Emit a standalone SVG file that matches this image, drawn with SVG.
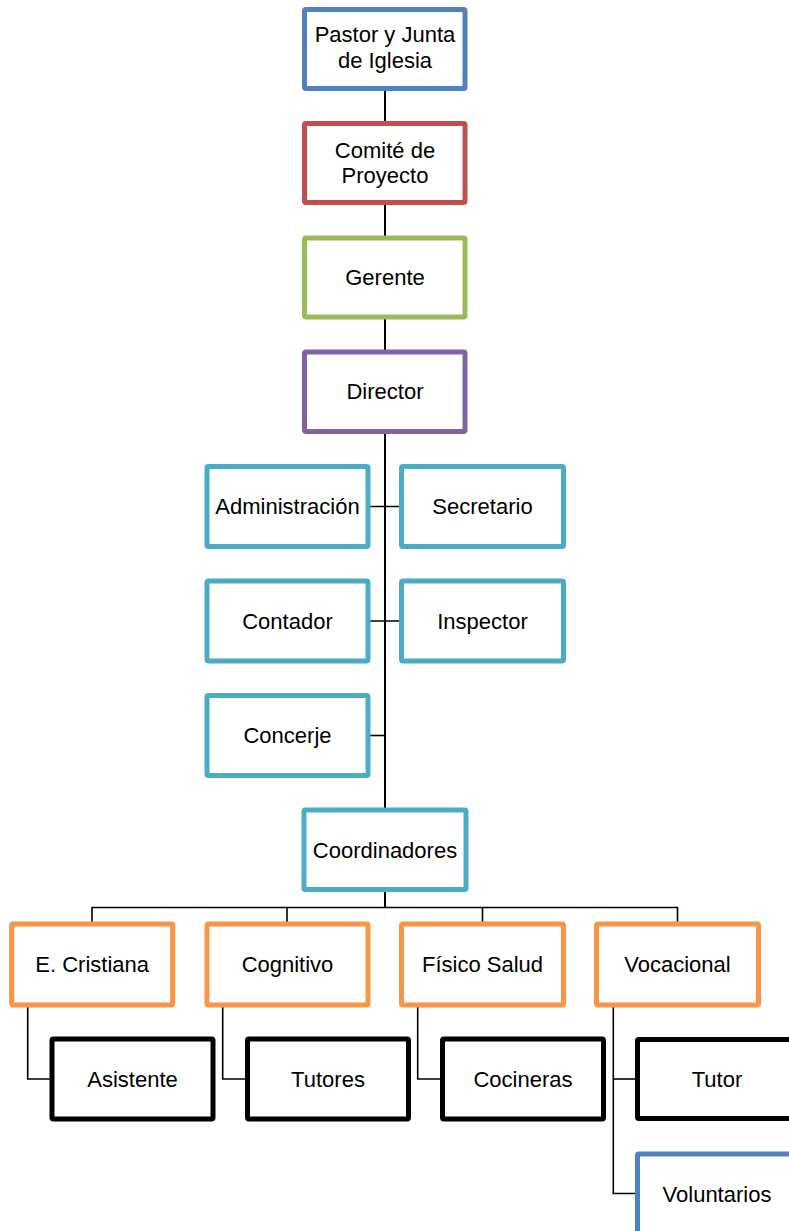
<svg xmlns="http://www.w3.org/2000/svg" width="789" height="1231" viewBox="0 0 789 1231">
<style>
.box{fill:#fff;stroke-width:5;}
.b{stroke:#4F81BD}.r{stroke:#C0504D}.g{stroke:#9BBB59}.p{stroke:#8064A2}.t{stroke:#4BACC6}.o{stroke:#F79646}.k{stroke:#000}
text{font-family:"Liberation Sans",Arial,sans-serif;font-size:22px;fill:#000;text-anchor:middle}
.ln{stroke:#000;fill:none;stroke-width:1.6}
.tr{stroke:#000;fill:none;stroke-width:2}
</style>
<g id="connectors">
<line class="tr" x1="385" y1="88" x2="385" y2="810"/>
<line class="tr" x1="385" y1="889" x2="385" y2="907.5"/>
<line class="ln" x1="368" y1="506.5" x2="401.5" y2="506.5"/>
<line class="ln" x1="368" y1="621" x2="401.5" y2="621"/>
<line class="ln" x1="368" y1="735.5" x2="385" y2="735.5"/>
<polyline class="ln" points="92,924 92,907.5 677.5,907.5 677.5,924"/>
<line class="ln" x1="287" y1="907.5" x2="287" y2="924"/>
<line class="ln" x1="482.5" y1="907.5" x2="482.5" y2="924"/>
<polyline class="ln" points="27.7,1005 27.7,1079 52,1079"/>
<polyline class="ln" points="222.7,1005 222.7,1079 247.5,1079"/>
<polyline class="ln" points="417.7,1005 417.7,1079 442.5,1079"/>
<polyline class="ln" points="613.3,1005 613.3,1193.5 637.5,1193.5"/>
<line class="ln" x1="613.3" y1="1079" x2="637.5" y2="1079"/>
</g>
<g id="pastor"><rect class="box b" x="304.5" y="9.5" width="160.5" height="79" rx="1.5"/><text x="385" y="42">Pastor y Junta</text><text x="385" y="68">de Iglesia</text></g>
<g id="comite"><rect class="box r" x="304.5" y="123.5" width="160.5" height="79" rx="1.5"/><text x="385" y="157.5">Comité de</text><text x="385" y="183">Proyecto</text></g>
<g id="gerente"><rect class="box g" x="304.5" y="238" width="160.5" height="79" rx="1.5"/><text x="385" y="285">Gerente</text></g>
<g id="director"><rect class="box p" x="304.5" y="352" width="160.5" height="79.5" rx="1.5"/><text x="385" y="399">Director</text></g>
<g id="administracion"><rect class="box t" x="207" y="466.5" width="161" height="80" rx="1.5"/><text x="287.5" y="514">Administración</text></g>
<g id="secretario"><rect class="box t" x="401.5" y="466.5" width="162" height="80" rx="1.5"/><text x="482.5" y="514">Secretario</text></g>
<g id="contador"><rect class="box t" x="207" y="581" width="161" height="80" rx="1.5"/><text x="287.5" y="628.5">Contador</text></g>
<g id="inspector"><rect class="box t" x="401.5" y="581" width="162" height="80" rx="1.5"/><text x="482.5" y="628.5">Inspector</text></g>
<g id="concerje"><rect class="box t" x="207" y="695.5" width="161" height="80" rx="1.5"/><text x="287.5" y="743">Concerje</text></g>
<g id="coordinadores"><rect class="box t" x="304" y="810" width="162" height="79.5" rx="1.5"/><text x="385" y="857.5">Coordinadores</text></g>
<g id="ecristiana"><rect class="box o" x="11.7" y="924" width="161" height="81" rx="1.5"/><text x="92.2" y="972">E. Cristiana</text></g>
<g id="cognitivo"><rect class="box o" x="207" y="924" width="161" height="81" rx="1.5"/><text x="287.5" y="972">Cognitivo</text></g>
<g id="fisico"><rect class="box o" x="401.5" y="924" width="162" height="81" rx="1.5"/><text x="482.5" y="972">Físico Salud</text></g>
<g id="vocacional"><rect class="box o" x="596.5" y="924" width="162" height="81" rx="1.5"/><text x="677.5" y="972">Vocacional</text></g>
<g id="asistente"><rect class="box k" x="52" y="1039" width="161" height="80" rx="1.5"/><text x="132.5" y="1086.5">Asistente</text></g>
<g id="tutores"><rect class="box k" x="247.5" y="1039" width="161" height="80" rx="1.5"/><text x="328" y="1086.5">Tutores</text></g>
<g id="cocineras"><rect class="box k" x="442.5" y="1039" width="161" height="80" rx="1.5"/><text x="523" y="1086.5">Cocineras</text></g>
<g id="tutor"><rect class="box k" x="637.5" y="1039.5" width="161" height="79" rx="1.5"/><text x="717" y="1086.5">Tutor</text></g>
<g id="voluntarios"><rect class="box b" x="637.5" y="1154" width="161" height="80" rx="1.5"/><text x="717" y="1201.5">Voluntarios</text></g>
</svg>
